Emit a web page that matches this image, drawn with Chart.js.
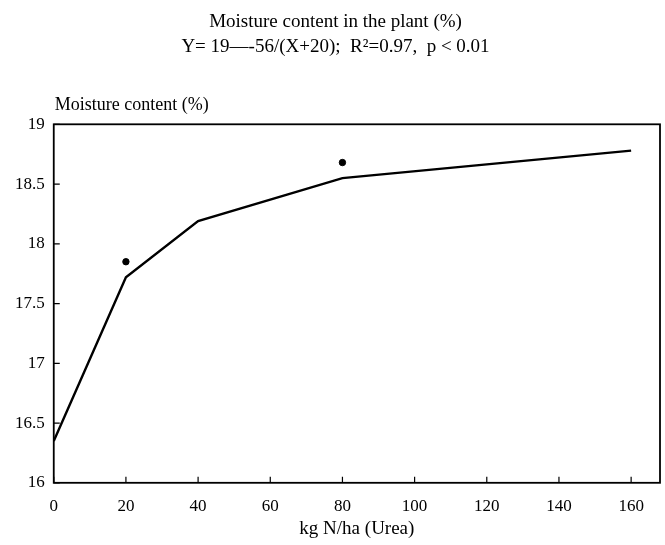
<!DOCTYPE html>
<html>
<head>
<meta charset="utf-8">
<script src="https://cdn.jsdelivr.net/npm/chart.js@4.4.1/dist/chart.umd.min.js"></script>
<style>
  html, body { margin: 0; padding: 0; background: #fff; }
  #wrap { width: 665px; height: 545px; }
</style>
</head>
<body>
<div id="wrap"><canvas id="moistureChart" width="665" height="545"></canvas></div>
<script>
// fitted curve Y = 19 - 56/(X+20), drawn as segments between the nitrogen rates
const nRates = [0, 20, 40, 80, 160];
const fittedMoisture = [16.35, 17.72, 18.19, 18.55, 18.78];
// observed means shown as dots
const observedRates = [20, 80];
const observedMoisture = [17.85, 18.68];
const xTicks = [0, 20, 40, 60, 80, 100, 120, 140, 160];
const yTicks = [16, 16.5, 17, 17.5, 18, 18.5, 19];

const serif = "'Liberation Serif', 'DejaVu Serif', serif";

// frame plus inward tick marks, and the horizontal y-axis caption
const framePlugin = {
    id: 'frame',
    afterDraw(chart) {
        const { ctx, chartArea: a, scales } = chart;
        ctx.save();
        ctx.strokeStyle = '#000';
        ctx.lineWidth = 1.8;
        ctx.strokeRect(a.left, a.top, a.right - a.left, a.bottom - a.top);
        ctx.lineWidth = 1.2;
        ctx.beginPath();
        xTicks.forEach(v => {
            const x = scales.x.getPixelForValue(v);
            ctx.moveTo(x, a.bottom);
            ctx.lineTo(x, a.bottom - 6);
        });
        yTicks.forEach(v => {
            const y = scales.y.getPixelForValue(v);
            ctx.moveTo(a.left, y);
            ctx.lineTo(a.left + 6, y);
        });
        ctx.stroke();
        ctx.fillStyle = '#000';
        ctx.font = '18px ' + serif;
        ctx.textAlign = 'left';
        ctx.textBaseline = 'middle';
        ctx.fillText('Moisture content (%)', a.left + 1, a.top - 19);
        ctx.restore();
    }
};

new Chart(document.getElementById('moistureChart'), {
    type: 'scatter',
    data: {
        datasets: [{
            type: 'line',
            data: nRates.map((x, i) => ({ x: x, y: fittedMoisture[i] })),
            borderColor: '#000',
            borderWidth: 2.4,
            pointRadius: 0,
            tension: 0,
            fill: false
        }, {
            data: observedRates.map((x, i) => ({ x: x, y: observedMoisture[i] })),
            backgroundColor: '#000',
            borderColor: '#000',
            pointRadius: 3.2,
            pointStyle: 'circle'
        }]
    },
    options: {
        responsive: false,
        animation: false,
        layout: { padding: { left: 6, right: 0, top: 7, bottom: 5 } },
        plugins: {
            legend: { display: false },
            tooltip: { enabled: false },
            title: {
                display: true,
                text: ['Moisture content in the plant (%)', 'Y= 19\u2014-56/(X+20);  R\u00b2=0.97,  p < 0.01'],
                color: '#000',
                font: { family: serif, size: 19, weight: 'normal', lineHeight: 1.35 },
                padding: { top: 2, bottom: 64 }
            }
        },
        scales: {
            x: {
                type: 'linear',
                min: 0,
                max: 168,
                afterBuildTicks: s => { s.ticks = xTicks.map(v => ({ value: v })); },
                grid: { display: false, drawTicks: false },
                border: { display: false },
                ticks: { color: '#000', font: { family: serif, size: 17 }, padding: 14 },
                title: {
                    display: true,
                    text: 'kg N/ha (Urea)',
                    color: '#000',
                    font: { family: serif, size: 19 },
                    padding: { top: -14, bottom: 0 }
                }
            },
            y: {
                min: 16,
                max: 19,
                afterBuildTicks: s => { s.ticks = yTicks.map(v => ({ value: v })); },
                grid: { display: false, drawTicks: false },
                border: { display: false },
                ticks: {
                    color: '#000',
                    font: { family: serif, size: 17 },
                    padding: 9,
                    callback: v => String(v)
                }
            }
        }
    },
    plugins: [framePlugin]
});
</script>
</body>
</html>
